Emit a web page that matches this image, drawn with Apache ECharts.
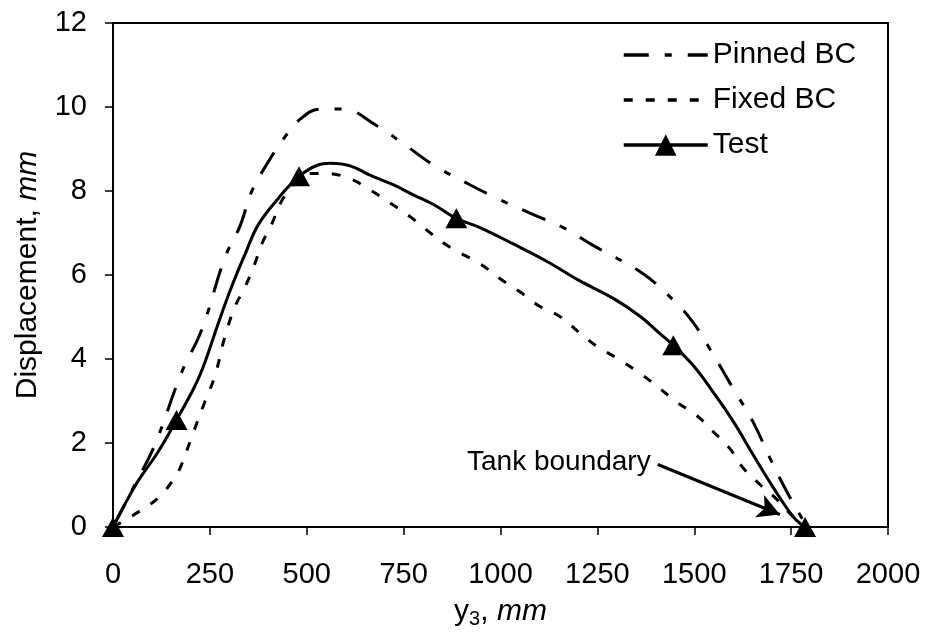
<!DOCTYPE html>
<html>
<head>
<meta charset="utf-8">
<script src="https://cdn.jsdelivr.net/npm/echarts@6/dist/echarts.min.js"></script>
<style>
html,body{margin:0;padding:0;background:#fff;}
#chart{width:926px;height:634px;}
</style>
</head>
<body>
<div id="chart"></div>
<script>
// ---- data ----
const xTicks = [0, 250, 500, 750, 1000, 1250, 1500, 1750, 2000];
const yTicks = [0, 2, 4, 6, 8, 10, 12];
const seriesNames = ['Pinned BC', 'Fixed BC', 'Test'];

const pinnedX = [0, 57, 108, 177, 229, 289, 328, 358, 401, 440, 483, 534, 594, 680, 749, 827, 921, 999, 1085, 1162, 1240, 1368, 1454, 1498, 1541, 1601, 1652, 1695, 1738, 1781, 1790];
const pinnedY = [0, 1.02, 1.96, 3.68, 4.7, 6.42, 7.17, 7.99, 8.7, 9.24, 9.71, 9.95, 9.95, 9.56, 9.13, 8.62, 8.15, 7.79, 7.44, 7.13, 6.7, 6.03, 5.33, 4.86, 4.23, 3.29, 2.5, 1.65, 0.86, 0.16, 0];

const fixedX = [0, 57, 117, 159, 177, 202, 237, 263, 289, 315, 341, 366, 384, 409, 435, 470, 510, 551, 612, 663, 715, 771, 818, 870, 947, 999, 1050, 1102, 1154, 1205, 1248, 1299, 1351, 1402, 1454, 1506, 1549, 1591, 1626, 1669, 1712, 1756, 1790];
const fixedY = [0, 0.31, 0.7, 1.17, 1.49, 2.12, 2.98, 3.6, 4.54, 5.25, 5.72, 6.27, 6.74, 7.2, 7.76, 8.2, 8.42, 8.42, 8.29, 8.03, 7.72, 7.36, 7.01, 6.66, 6.27, 5.91, 5.6, 5.25, 5.01, 4.62, 4.31, 4.03, 3.72, 3.37, 2.98, 2.66, 2.27, 1.88, 1.41, 1.02, 0.67, 0.24, 0];

const testX = [0, 31, 65, 117, 164, 212, 237, 272, 306, 341, 375, 427, 480, 529, 560, 612, 663, 723, 775, 827, 886, 947, 1033, 1119, 1205, 1290, 1360, 1410, 1446, 1498, 1549, 1601, 1652, 1704, 1756, 1786];
const testY = [0, 0.55, 1.1, 1.8, 2.55, 3.37, 3.92, 4.86, 5.72, 6.5, 7.2, 7.83, 8.35, 8.62, 8.66, 8.6, 8.38, 8.15, 7.91, 7.68, 7.35, 7.13, 6.74, 6.33, 5.86, 5.45, 5.02, 4.62, 4.33, 3.84, 3.21, 2.51, 1.72, 0.94, 0.24, 0];
const testMarkerX = [0, 164, 480, 886, 1446, 1786];

const annotationText = 'Tank boundary';
const arrowFrom = [1406, 1.49];
const arrowTo = [1721, 0.3];

// ---- chart ----
const FONT = '"Liberation Sans", Arial, sans-serif';
const zip = (xs, ys) => xs.map((x, i) => [x, ys[i]]);
const testData = testX.map((x, i) => {
  const marked = testMarkerX.indexOf(x) >= 0;
  return marked ? { value: [x, testY[i]] } : { value: [x, testY[i]], symbol: 'none' };
});
const pinnedDash = [25, 16, 7, 16];
const fixedDash = [9, 13];

const chart = echarts.init(document.getElementById('chart'), null, { renderer: 'canvas' });
chart.setOption({
  backgroundColor: '#fff',
  animation: false,
  textStyle: { fontFamily: FONT, color: '#000' },
  grid: { left: 113, right: 38, top: 23, bottom: 101, show: true, borderColor: '#000', borderWidth: 2 },
  legend: {
    data: [
      { name: seriesNames[0], itemStyle: { opacity: 0 }, lineStyle: { width: 3.5, color: '#000', type: pinnedDash } },
      { name: seriesNames[1], itemStyle: { opacity: 0 }, lineStyle: { width: 3.5, color: '#000', type: fixedDash } },
      { name: seriesNames[2], lineStyle: { width: 3.5, color: '#000' } }
    ],
    orient: 'vertical',
    left: 622,
    top: 38,
    itemWidth: 84,
    itemHeight: 27,
    itemGap: 11,
    padding: 0,
    textStyle: { fontFamily: FONT, fontSize: 30, color: '#000', lineHeight: 34 }
  },
  xAxis: {
    type: 'value',
    min: xTicks[0], max: xTicks[xTicks.length - 1], interval: xTicks[1] - xTicks[0],
    name: '{a|y}{s|3}{a|, }{i|mm}',
    nameLocation: 'middle',
    nameGap: 60,
    nameTextStyle: {
      rich: {
        a: { fontFamily: FONT, fontSize: 30, color: '#000', lineHeight: 34 },
        s: { fontFamily: FONT, fontSize: 20, color: '#000', lineHeight: 34, verticalAlign: 'bottom', padding: [10, 0, 0, 0] },
        i: { fontFamily: FONT, fontSize: 30, color: '#000', fontStyle: 'italic', lineHeight: 34 }
      }
    },
    axisLine: { lineStyle: { color: '#000', width: 2 } },
    axisTick: { show: true, inside: false, length: 8, lineStyle: { color: '#000', width: 1.5 } },
    axisLabel: { fontFamily: FONT, fontSize: 29, color: '#000', margin: 31, lineHeight: 34, formatter: v => String(v) },
    splitLine: { show: false }
  },
  yAxis: {
    type: 'value',
    min: yTicks[0], max: yTicks[yTicks.length - 1], interval: yTicks[1] - yTicks[0],
    name: '{a|Displacement, }{i|mm}',
    nameLocation: 'middle',
    nameGap: 68,
    nameTextStyle: {
      rich: {
        a: { fontFamily: FONT, fontSize: 30, color: '#000', lineHeight: 34 },
        i: { fontFamily: FONT, fontSize: 30, color: '#000', fontStyle: 'italic', lineHeight: 34 }
      }
    },
    axisLine: { show: true, lineStyle: { color: '#000', width: 2 } },
    axisTick: { show: true, inside: false, length: 8, lineStyle: { color: '#000', width: 1.5 } },
    axisLabel: { fontFamily: FONT, fontSize: 29, color: '#000', margin: 26, formatter: v => String(v) },
    splitLine: { show: false }
  },
  series: [
    {
      name: seriesNames[0],
      type: 'line',
      data: zip(pinnedX, pinnedY),
      smooth: 0.4,
      symbol: 'none',
      clip: false,
      lineStyle: { color: '#000', width: 3, type: pinnedDash, cap: 'butt' },
      itemStyle: { color: '#000' }
    },
    {
      name: seriesNames[1],
      type: 'line',
      data: zip(fixedX, fixedY),
      smooth: 0.4,
      symbol: 'none',
      clip: false,
      lineStyle: { color: '#000', width: 3, type: fixedDash, cap: 'butt' },
      itemStyle: { color: '#000' }
    },
    {
      name: seriesNames[2],
      type: 'line',
      data: testData,
      smooth: 0.4,
      symbol: 'triangle',
      symbolSize: [22, 20],
      showSymbol: true,
      showAllSymbol: true,
      clip: false,
      lineStyle: { color: '#000', width: 3 },
      itemStyle: { color: '#000', borderWidth: 0 },
      markLine: {
        silent: true,
        symbol: ['none', 'arrow'],
        symbolSize: [18, 22],
        label: { show: false },
        lineStyle: { color: '#000', width: 3, type: 'solid' },
        data: [[{ coord: arrowFrom }, { coord: arrowTo }]]
      },
      z: 3
    }
  ],
  graphic: [
    {
      type: 'text',
      left: 467,
      top: 448,
      style: { text: annotationText, fontFamily: FONT, fontSize: 28, fill: '#000' }
    }
  ]
});
</script>
</body>
</html>
